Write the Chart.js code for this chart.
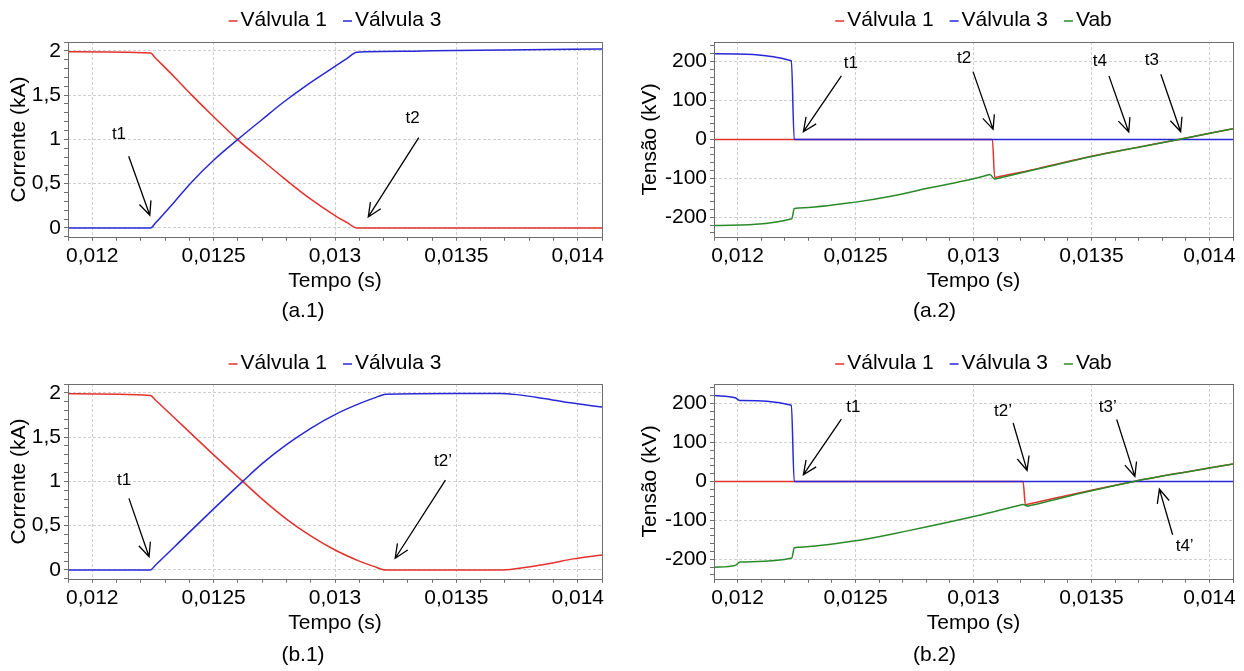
<!DOCTYPE html>
<html>
<head>
<meta charset="utf-8">
<script src="https://cdn.jsdelivr.net/npm/chart.js@4.4.0/dist/chart.umd.min.js"></script>
<style>
body { margin: 0; background: #fff; width: 1244px; height: 671px; overflow: hidden; position: relative; }
canvas { position: absolute; }
</style>
</head>
<body>
<canvas id="grafico_a1" width="620" height="330" style="left:0px;top:0px"></canvas>
<canvas id="grafico_a2" width="624" height="330" style="left:620px;top:0px"></canvas>
<canvas id="grafico_b1" width="620" height="331" style="left:0px;top:340px"></canvas>
<canvas id="grafico_b2" width="624" height="331" style="left:620px;top:340px"></canvas>
<script>
// eixos
var tempoMin = 0.0119, tempoMax = 0.0141;
var ticksTempo = [0.012, 0.0125, 0.013, 0.0135, 0.014];
var ticksCorrente = [0, 0.5, 1, 1.5, 2];
var ticksTensao = [-200, -100, 0, 100, 200];

// (a.1) corrente
var a1_t_v1 = [0.0119, 0.01224, 0.01226, 0.01234, 0.01241, 0.0125, 0.0126, 0.0127, 0.01279, 0.01289, 0.013, 0.01305, 0.01309, 0.0141];
var a1_i_v1 = [1.99, 1.975, 1.92, 1.70, 1.50, 1.255, 0.995, 0.765, 0.56, 0.345, 0.14, 0.06, 0, 0];
var a1_t_v3 = [0.0119, 0.01224, 0.01226, 0.01234, 0.01241, 0.0125, 0.0126, 0.0127, 0.01279, 0.01289, 0.013, 0.01305, 0.01309, 0.0133, 0.0134, 0.0137, 0.0141];
var a1_i_v3 = [0, 0, 0.055, 0.30, 0.52, 0.765, 1.0, 1.225, 1.425, 1.625, 1.825, 1.915, 1.985, 1.995, 2.0, 2.01, 2.02];

// (a.2) tensão
var a2_t_v1 = [0.0119, 0.01308, 0.01309, 0.0131, 0.0132, 0.0133, 0.0135, 0.0137, 0.01387, 0.0141];
var a2_v_v1 = [0, 0, -98, -96.8, -84.5, -71, -43.5, -19.8, 0, 27.5];
var a2_t_v3 = [0.0119, 0.012228, 0.01224, 0.0141];
var a2_v_v3 = [220, 202, 0, 0];
var a2_t_vab = [0.0119, 0.01223, 0.01224, 0.01226, 0.0125, 0.01265, 0.0128, 0.013, 0.01306, 0.01307, 0.01309, 0.0131, 0.0132, 0.0133, 0.0135, 0.0137, 0.01387, 0.0141];
var a2_v_vab = [-221, -203.5, -178, -176, -161, -146, -126, -101, -91.6, -90, -102, -100.5, -86, -72, -44, -20, 0, 27.5];

// (b.1) corrente
var b1_t_v1 = [0.0119, 0.01224, 0.01226, 0.0125, 0.01262, 0.0127, 0.0128, 0.0129, 0.013, 0.0131, 0.01316, 0.01321, 0.01369, 0.01379, 0.01389, 0.01398, 0.0141];
var b1_i_v1 = [1.99, 1.97, 1.92, 1.30, 1.0, 0.80, 0.575, 0.385, 0.225, 0.10, 0.04, 0, 0, 0.03, 0.075, 0.125, 0.17];
var b1_t_v3 = [0.0119, 0.01224, 0.01226, 0.01234, 0.0125, 0.01262, 0.0127, 0.0128, 0.0129, 0.013, 0.0131, 0.01316, 0.01321, 0.0135, 0.01368, 0.01375, 0.01386, 0.01397, 0.0141];
var b1_i_v3 = [0, 0, 0.053, 0.265, 0.69, 1.0, 1.20, 1.415, 1.60, 1.755, 1.878, 1.94, 1.985, 1.993, 1.993, 1.98, 1.937, 1.887, 1.84];

// (b.2) tensão
var b2_t_v1 = [0.0119, 0.01321, 0.01322, 0.01323, 0.0135, 0.01368, 0.01389, 0.0141];
var b2_v_v1 = [0, 0, -60, -58.7, -22.5, 0, 23, 44.5];
var b2_t_v3 = [0.0119, 0.01199, 0.01201, 0.012228, 0.01224, 0.0141];
var b2_v_v3 = [220.5, 214.5, 207.5, 195.5, 0, 0];
var b2_t_vab = [0.0119, 0.01199, 0.01201, 0.01223, 0.01224, 0.01226, 0.0125, 0.01272, 0.01301, 0.0132, 0.01321, 0.01323, 0.01324, 0.0135, 0.01368, 0.01389, 0.0141];
var b2_v_vab = [-220.5, -215.5, -207, -196.5, -171, -169, -152.5, -127, -89, -60.4, -59, -63.5, -62.1, -24, 0, 23, 44.5];

// setas (em unidades dos eixos)
var a1_setas = [
    {texto: 't1', rotulo: [0.01211, 1.06], de: [0.01215, 0.81], ate: [0.012237, 0.143]},
    {texto: 't2', rotulo: [0.01332, 1.24], de: [0.013345, 1.02], ate: [0.013137, 0.124]}
];
var a2_setas = [
    {texto: 't1', rotulo: [0.01248, 195], de: [0.01244, 163], ate: [0.012279, 19.7]},
    {texto: 't2', rotulo: [0.01296, 208.6], de: [0.012998, 174], ate: [0.013083, 25.8]},
    {texto: 't4', rotulo: [0.013536, 201.7], de: [0.013574, 163], ate: [0.013658, 18.9]},
    {texto: 't3', rotulo: [0.013756, 203.4], de: [0.013794, 167.4], ate: [0.013878, 19.7]}
];
var b1_setas = [
    {texto: 't1', rotulo: [0.012131, 1.015], de: [0.012151, 0.808], ate: [0.012234, 0.15]},
    {texto: 't2’', rotulo: [0.013445, 1.222], de: [0.013455, 1.015], ate: [0.013248, 0.132]}
];
var b2_setas = [
    {texto: 't1', rotulo: [0.012491, 189], de: [0.01244, 160], ate: [0.012279, 17.2]},
    {texto: 't2’', rotulo: [0.013125, 180], de: [0.013168, 150], ate: [0.013227, 28.3]},
    {texto: 't3’', rotulo: [0.013569, 189], de: [0.013607, 159], ate: [0.013684, 12.9]},
    {texto: 't4’', rotulo: [0.013895, -167], de: [0.013844, -137], ate: [0.013788, -19.7]}
];

var cores = { v1: '#e5312d', v3: '#2828d8', vab: '#2a8a2a' };
var fonte = '"Liberation Sans", Arial, sans-serif';

Chart.defaults.font.family = fonte;
Chart.defaults.font.size = 21;
Chart.defaults.color = '#000';

var pontos = function(t, y) {
    var p = [];
    for (var i = 0; i < t.length; i++) p.push({x: t[i], y: y[i]});
    return p;
};

var ticksEntre = function(min, max, passo) {
    var lista = [];
    var k0 = Math.ceil(min / passo - 1e-6), k1 = Math.floor(max / passo + 1e-6);
    for (var k = k0; k <= k1; k++) lista.push({value: k * passo});
    return lista;
};

var ehMaior = function(v, maiores, passo) {
    for (var i = 0; i < maiores.length; i++)
        if (Math.abs(v - maiores[i]) < passo * 0.01) return true;
    return false;
};

var formata = function(v) {
    return String(parseFloat(v.toPrecision(6))).replace('.', ',');
};

// legenda centrada na área do gráfico
var legendaTopo = {
    id: 'legendaTopo',
    afterDraw: function(chart, args, opts) {
        var ctx = chart.ctx, area = chart.chartArea, ds = chart.data.datasets;
        var traco = 9, folga = 3, espaco = 16;
        ctx.save();
        ctx.font = '21px ' + fonte;
        var larguras = ds.map(function(d) { return traco + folga + ctx.measureText(d.label).width; });
        var total = larguras.reduce(function(a, b) { return a + b; }, 0) + espaco * (ds.length - 1);
        var x = (area.left + area.right) / 2 - total / 2;
        ctx.textBaseline = 'middle';
        ds.forEach(function(d, i) {
            ctx.strokeStyle = d.borderColor;
            ctx.lineWidth = 1.5;
            ctx.beginPath();
            ctx.moveTo(x, opts.y + 1);
            ctx.lineTo(x + traco, opts.y + 1);
            ctx.stroke();
            ctx.fillStyle = '#000';
            ctx.fillText(d.label, x + traco + folga, opts.y);
            x += larguras[i] + espaco;
        });
        ctx.restore();
    }
};

var moldura = {
    id: 'moldura',
    afterDatasetsDraw: function(chart) {
        var ctx = chart.ctx, a = chart.chartArea;
        ctx.save();
        ctx.strokeStyle = '#6e6e6e';
        ctx.lineWidth = 1;
        ctx.strokeRect(Math.round(a.left) + 0.5, Math.round(a.top) + 0.5, Math.round(a.right - a.left), Math.round(a.bottom - a.top));
        ctx.restore();
    }
};

var setas = {
    id: 'setas',
    afterDatasetsDraw: function(chart, args, opts) {
        var ctx = chart.ctx, sx = chart.scales.x, sy = chart.scales.y;
        ctx.save();
        ctx.strokeStyle = '#000';
        ctx.fillStyle = '#000';
        ctx.lineWidth = 1.3;
        ctx.font = '17px ' + fonte;
        ctx.textAlign = 'center';
        ctx.textBaseline = 'middle';
        (opts.itens || []).forEach(function(s) {
            var x0 = sx.getPixelForValue(s.de[0]), y0 = sy.getPixelForValue(s.de[1]);
            var x1 = sx.getPixelForValue(s.ate[0]), y1 = sy.getPixelForValue(s.ate[1]);
            var ang = Math.atan2(y1 - y0, x1 - x0), L = 15, abre = 0.42;
            ctx.beginPath();
            ctx.moveTo(x0, y0);
            ctx.lineTo(x1, y1);
            ctx.moveTo(x1 - L * Math.cos(ang - abre), y1 - L * Math.sin(ang - abre));
            ctx.lineTo(x1, y1);
            ctx.lineTo(x1 - L * Math.cos(ang + abre), y1 - L * Math.sin(ang + abre));
            ctx.stroke();
            ctx.fillText(s.texto, sx.getPixelForValue(s.rotulo[0]), sy.getPixelForValue(s.rotulo[1]));
        });
        ctx.restore();
    }
};

var serie = function(rotulo, cor, ordem, t, y) {
    return {
        label: rotulo,
        data: pontos(t, y),
        borderColor: cor,
        backgroundColor: cor,
        borderWidth: 1.5,
        pointRadius: 0,
        cubicInterpolationMode: 'monotone',
        fill: false,
        order: ordem
    };
};

var criaPainel = function(id, series, eixoY, geo, itensSetas, legenda) {
    var corGrade = '#cfcfcf', corEixo = '#6e6e6e';
    return new Chart(document.getElementById(id), {
        type: 'line',
        data: { datasets: series },
        options: {
            responsive: false,
            animation: false,
            events: [],
            layout: { padding: { left: geo.esq, right: geo.dir, top: geo.topo, bottom: geo.base } },
            plugins: {
                legend: { display: false },
                tooltip: { enabled: false },
                title: {
                    display: true, text: legenda, position: 'bottom', padding: 0,
                    font: { size: 21, weight: 'normal' }, color: '#000'
                },
                legendaTopo: { y: geo.yLegenda },
                setas: { itens: itensSetas }
            },
            scales: {
                x: {
                    type: 'linear',
                    min: tempoMin,
                    max: tempoMax,
                    afterFit: function(s) { s.height = geo.alturaX; },
                    afterBuildTicks: function(s) { s.ticks = ticksEntre(tempoMin, tempoMax, 0.0001); },
                    ticks: {
                        autoSkip: false, maxRotation: 0, minRotation: 0, padding: 3,
                        callback: function(v) { return ehMaior(v, ticksTempo, 0.0001) ? formata(v) : ''; }
                    },
                    grid: {
                        color: function(c) { return c.tick && ehMaior(c.tick.value, ticksTempo, 0.0001) ? corGrade : 'rgba(0,0,0,0)'; },
                        tickColor: corEixo, tickLength: 4, lineWidth: 1
                    },
                    border: { display: false, dash: [3, 2] },
                    title: { display: true, text: 'Tempo (s)', padding: { top: 0, bottom: geo.pTitX } }
                },
                y: {
                    type: 'linear',
                    min: eixoY.min,
                    max: eixoY.max,
                    afterFit: function(s) { s.width = geo.larguraY; },
                    afterBuildTicks: function(s) { s.ticks = ticksEntre(eixoY.min, eixoY.max, eixoY.passo); },
                    ticks: {
                        autoSkip: false, padding: 3,
                        callback: function(v) { return ehMaior(v, eixoY.maiores, eixoY.passo) ? formata(v) : ''; }
                    },
                    grid: {
                        color: function(c) { return c.tick && ehMaior(c.tick.value, eixoY.maiores, eixoY.passo) ? corGrade : 'rgba(0,0,0,0)'; },
                        tickColor: corEixo, tickLength: 4, lineWidth: 1
                    },
                    border: { display: false, dash: [3, 2] },
                    title: { display: true, text: eixoY.titulo, padding: { top: geo.pTitY, bottom: 0 } }
                }
            }
        },
        plugins: [legendaTopo, moldura, setas]
    });
};

var eixoCorrente = { min: -0.1, max: 2.1, passo: 0.1, maiores: ticksCorrente, titulo: 'Corrente (kA)' };
var eixoTensao = { min: -250, max: 250, passo: 20, maiores: ticksTensao, titulo: 'Tensão (kV)' };

var geoA1 = { esq: 4, dir: 18, topo: 42, base: 6, larguraY: 64, alturaX: 62, pTitX: 5, pTitY: 3, yLegenda: 20 };
var geoA2 = { esq: 16, dir: 11, topo: 42, base: 6, larguraY: 78, alturaX: 62, pTitX: 5, pTitY: 2, yLegenda: 20 };
var geoB1 = { esq: 4, dir: 18, topo: 44, base: 3, larguraY: 64, alturaX: 64, pTitX: 7, pTitY: 3, yLegenda: 23 };
var geoB2 = { esq: 16, dir: 11, topo: 44, base: 3, larguraY: 78, alturaX: 64, pTitX: 7, pTitY: 2, yLegenda: 23 };

criaPainel('grafico_a1', [
    serie('Válvula 1', cores.v1, 2, a1_t_v1, a1_i_v1),
    serie('Válvula 3', cores.v3, 1, a1_t_v3, a1_i_v3)
], eixoCorrente, geoA1, a1_setas, '(a.1)');

criaPainel('grafico_a2', [
    serie('Válvula 1', cores.v1, 3, a2_t_v1, a2_v_v1),
    serie('Válvula 3', cores.v3, 2, a2_t_v3, a2_v_v3),
    serie('Vab', cores.vab, 1, a2_t_vab, a2_v_vab)
], eixoTensao, geoA2, a2_setas, '(a.2)');

criaPainel('grafico_b1', [
    serie('Válvula 1', cores.v1, 2, b1_t_v1, b1_i_v1),
    serie('Válvula 3', cores.v3, 1, b1_t_v3, b1_i_v3)
], eixoCorrente, geoB1, b1_setas, '(b.1)');

criaPainel('grafico_b2', [
    serie('Válvula 1', cores.v1, 3, b2_t_v1, b2_v_v1),
    serie('Válvula 3', cores.v3, 2, b2_t_v3, b2_v_v3),
    serie('Vab', cores.vab, 1, b2_t_vab, b2_v_vab)
], eixoTensao, geoB2, b2_setas, '(b.2)');
</script>
</body>
</html>
